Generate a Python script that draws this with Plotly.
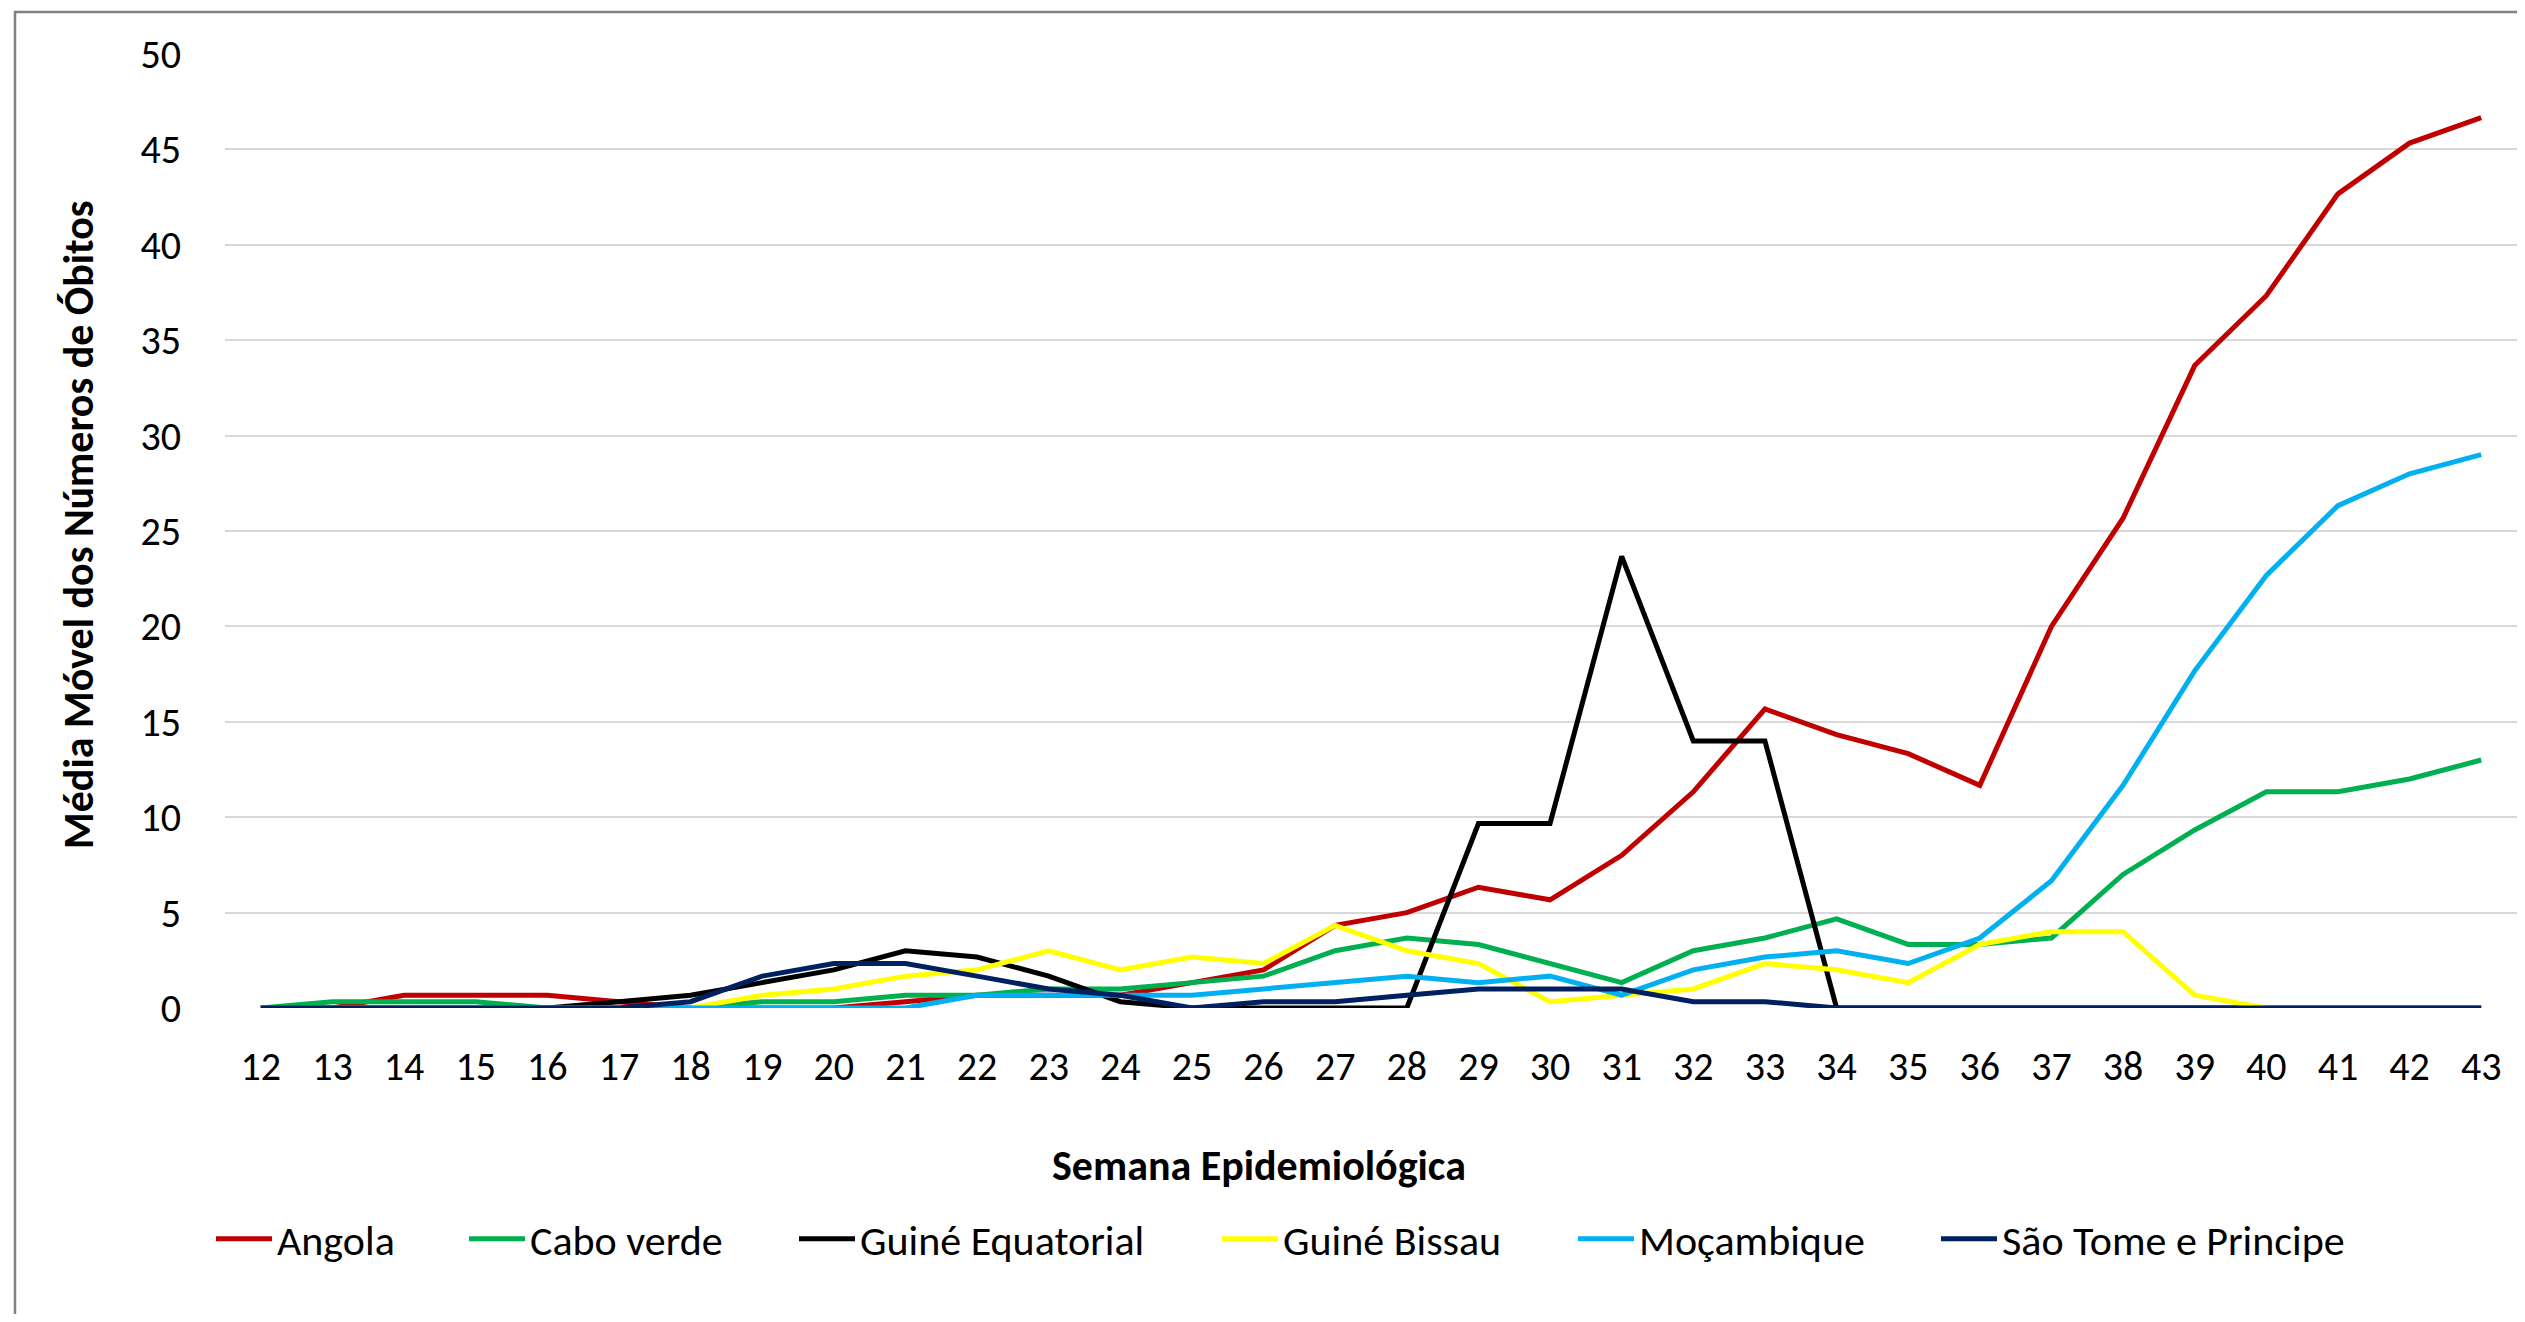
import plotly.graph_objects as go

weeks = [str(w) for w in range(12, 44)]

angola = [0, 0, 0.67, 0.67, 0.67, 0.33, 0, 0, 0, 0.33, 0.67, 0.67, 0.67, 1.33, 2, 4.33,
          5, 6.33, 5.67, 8, 11.33, 15.67, 14.33, 13.33, 11.67, 20, 25.67, 33.67, 37.33, 42.67, 45.33, 46.67]
cabo_verde = [0, 0.33, 0.33, 0.33, 0, 0, 0, 0.33, 0.33, 0.67, 0.67, 1, 1, 1.33, 1.67, 3,
              3.67, 3.33, 2.33, 1.33, 3, 3.67, 4.67, 3.33, 3.33, 3.67, 7, 9.33, 11.33, 11.33, 12, 13]
guine_eq = [0, 0, 0, 0, 0, 0.33, 0.67, 1.33, 2, 3, 2.67, 1.67, 0.33, 0, 0, 0,
            0, 9.67, 9.67, 23.67, 14, 14, 0, 0, 0, 0, 0, 0, 0, 0, 0, 0]
guine_bissau = [0, 0, 0, 0, 0, 0, 0, 0.67, 1, 1.67, 2, 3, 2, 2.67, 2.33, 4.33,
                3, 2.33, 0.33, 0.67, 1, 2.33, 2, 1.33, 3.33, 4, 4, 0.67, 0, 0, 0, 0]
mocambique = [0, 0, 0, 0, 0, 0, 0, 0, 0, 0, 0.67, 0.67, 0.67, 0.67, 1, 1.33,
              1.67, 1.33, 1.67, 0.67, 2, 2.67, 3, 2.33, 3.67, 6.67, 11.67, 17.67, 22.67, 26.33, 28, 29]
sao_tome = [0, 0, 0, 0, 0, 0, 0.33, 1.67, 2.33, 2.33, 1.67, 1, 0.67, 0, 0.33, 0.33,
            0.67, 1, 1, 1, 0.33, 0.33, 0, 0, 0, 0, 0, 0, 0, 0, 0, 0]

series_names = ["Angola", "Cabo verde", "Guiné Equatorial", "Guiné Bissau", "Moçambique", "São Tome e Principe"]
series_values = [angola, cabo_verde, guine_eq, guine_bissau, mocambique, sao_tome]
series_colors = ["#C00000", "#00B050", "#000000", "#FFFF00", "#00B0F0", "#002060"]
legend_ids = ["legend", "legend2", "legend3", "legend4", "legend5", "legend6"]
legend_line_start_px = [215, 468, 798, 1221, 1577, 1940]   # page pixels

PAGE_W, PAGE_H = 2525, 1322
OFF = 8                      # default body margin of the html page
FW, FH = PAGE_W - 2 * OFF, PAGE_H - 2 * OFF

# plot area in page pixels
PX0, PX1, PY0, PY1 = 225, 2517, 54, 1008
L = PX0 - OFF
R = FW - (PX1 - OFF)
T = PY0 - OFF
B = FH - (PY1 - OFF)
PW = FW - L - R
PH = FH - T - B


def px_x(page_x):
    return (page_x - PX0) / PW


def px_y(page_y):
    return (PY1 - page_y) / PH


FONT = "Calibri, Carlito, Lato, sans-serif"

fig = go.Figure()
for name, vals, col, lid in zip(series_names, series_values, series_colors, legend_ids):
    fig.add_trace(go.Scatter(x=weeks, y=vals, mode="lines", name=name,
                             line=dict(color=col, width=5), legend=lid))

layout_legends = {}
for lid, px in zip(legend_ids, legend_line_start_px):
    layout_legends[lid] = dict(
        x=px_x(px - 4), xanchor="left", y=px_y(1239), yanchor="middle",
        orientation="h", itemwidth=56, bgcolor="rgba(0,0,0,0)",
        font=dict(family=FONT, size=42, color="#000000"),
    )

fig.update_layout(
    width=FW, height=FH,
    margin=dict(l=L, r=R, t=T, b=B, pad=0),
    paper_bgcolor="white", plot_bgcolor="white",
    showlegend=True,
    font=dict(family=FONT, size=40, color="#000000"),
    xaxis=dict(type="category", range=[-0.5, len(weeks) - 0.5], showgrid=False,
               zeroline=False, showline=False, ticks="",
               tickfont=dict(family=FONT, size=40, color="#000000"),
               ticklabelstandoff=31),
    yaxis=dict(range=[0, 50], dtick=5, showgrid=True, gridcolor="#D9D9D9", gridwidth=2,
               zeroline=False, showline=False, ticks="",
               tickfont=dict(family=FONT, size=40, color="#000000"),
               ticklabelstandoff=43),
    annotations=[
        dict(text="<b>Semana Epidemiológica</b>", xref="paper", yref="paper",
             x=px_x(1259), y=px_y(1165), xanchor="center", yanchor="middle",
             showarrow=False, font=dict(family=FONT, size=42, color="#000000")),
        dict(text="<b>Média Móvel dos Números de Óbitos</b>", xref="paper", yref="paper",
             x=px_x(78), y=px_y(525), xanchor="center", yanchor="middle",
             textangle=-90, showarrow=False, font=dict(family=FONT, size=42, color="#000000")),
    ],
    shapes=[
        dict(type="rect", xref="paper", yref="paper",
             x0=px_x(15), x1=px_x(PAGE_W + 40),
             y0=px_y(PAGE_H + 40), y1=px_y(12),
             line=dict(color="#808080", width=2.5), fillcolor="rgba(0,0,0,0)", layer="below"),
    ],
    **layout_legends,
)

fig.write_html("out.html")
